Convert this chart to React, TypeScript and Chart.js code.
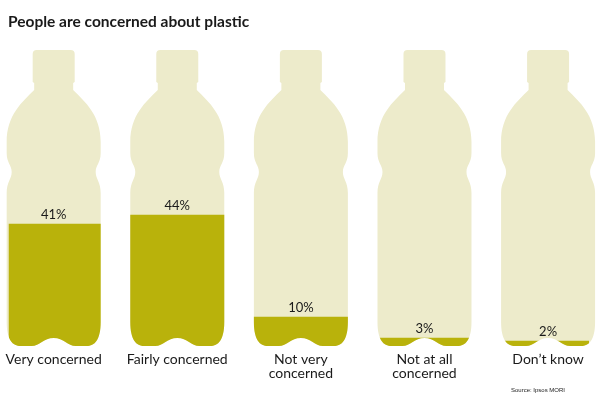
import React, { useEffect, useRef } from "react";
import { Chart, registerables } from "chart.js";

Chart.register(...registerables);

// ---- data ----
const categories = ["Very concerned", "Fairly concerned", "Not very concerned", "Not at all concerned", "Don’t know"];
const tickLabels = [["Very concerned"], ["Fairly concerned"], ["Not very", "concerned"], ["Not at all", "concerned"], ["Don’t know"]];
const values = [41, 44, 10, 3, 2];
const valueLabels = ["41%", "44%", "10%", "3%", "2%"];
const titleText = "People are concerned about plastic";
const sourceText = "Source: Ipsos MORI";

const LIGHT = "#EDEBCB";
const DARK = "#B9B20B";
const TEXT = "#1a1a1a";

function bottlePath(ctx: CanvasRenderingContext2D, cx: number, t: number, b: number) {
  const hw = 47;
  const capHW = 21;
  const neckHW = 19.5;
  const r = 4;
  ctx.moveTo(cx - capHW + r, t);
  ctx.lineTo(cx + capHW - r, t);
  ctx.quadraticCurveTo(cx + capHW, t, cx + capHW, t + r);
  ctx.lineTo(cx + capHW, t + 32);
  ctx.lineTo(cx + neckHW, t + 33);
  ctx.lineTo(cx + neckHW, t + 40);
  ctx.bezierCurveTo(cx + 31.5, t + 52, cx + hw, t + 65, cx + hw, t + 92);
  ctx.lineTo(cx + hw, t + 103);
  ctx.bezierCurveTo(cx + hw, t + 113, cx + hw - 5, t + 115, cx + hw - 5, t + 122);
  ctx.bezierCurveTo(cx + hw - 5, t + 129, cx + hw, t + 132, cx + hw, t + 143);
  ctx.lineTo(cx + hw, b - 24);
  ctx.bezierCurveTo(cx + hw, b - 6, cx + hw - 6, b, cx + hw - 14, b);
  ctx.lineTo(cx + 22, b);
  ctx.bezierCurveTo(cx + 14, b, cx + 10, b - 8, cx, b - 8);
  ctx.bezierCurveTo(cx - 10, b - 8, cx - 14, b, cx - 22, b);
  ctx.lineTo(cx - hw + 14, b);
  ctx.bezierCurveTo(cx - hw + 6, b, cx - hw, b - 6, cx - hw, b - 24);
  ctx.lineTo(cx - hw, t + 143);
  ctx.bezierCurveTo(cx - hw, t + 132, cx - hw + 5, t + 129, cx - hw + 5, t + 122);
  ctx.bezierCurveTo(cx - hw + 5, t + 115, cx - hw, t + 113, cx - hw, t + 103);
  ctx.lineTo(cx - hw, t + 92);
  ctx.bezierCurveTo(cx - hw, t + 65, cx - 31.5, t + 52, cx - neckHW, t + 40);
  ctx.lineTo(cx - neckHW, t + 33);
  ctx.lineTo(cx - capHW, t + 32);
  ctx.lineTo(cx - capHW, t + r);
  ctx.quadraticCurveTo(cx - capHW, t, cx - capHW + r, t);
  ctx.closePath();
}

const bottlePlugin = {
  id: "bottles",
  beforeDatasetsDraw(chart: any) {
    const { ctx, scales } = chart;
    const x = scales.x;
    const y = scales.y;
    const top = y.getPixelForValue(100) + 3;
    const bottom = y.getPixelForValue(0) - 1;
    ctx.save();
    ctx.beginPath();
    categories.forEach((_, i) => bottlePath(ctx, x.getPixelForValue(i), top, bottom));
    ctx.fillStyle = LIGHT;
    ctx.fill();
    ctx.clip();
  },
  afterDatasetsDraw(chart: any) {
    const { ctx } = chart;
    ctx.restore();
    const meta = chart.getDatasetMeta(0);
    ctx.save();
    ctx.font = "13px Lato";
    ctx.fillStyle = TEXT;
    ctx.textAlign = "center";
    ctx.textBaseline = "alphabetic";
    meta.data.forEach((el: any, i: number) => {
      ctx.fillText(valueLabels[i], el.x, el.y - 5);
    });
    ctx.restore();
  },
  afterDraw(chart: any) {
    const { ctx } = chart;
    ctx.save();
    ctx.font = "6px 'Liberation Sans'";
    ctx.fillStyle = TEXT;
    ctx.textAlign = "right";
    ctx.textBaseline = "alphabetic";
    ctx.fillText(sourceText, 565, 392);
    ctx.restore();
  },
};

export default function App() {
  const ref = useRef<HTMLCanvasElement | null>(null);
  useEffect(() => {
    if (!ref.current) return;
    const chart = new Chart(ref.current, {
      type: "bar",
      data: {
        datasets: [
          {
            data: values.map((v, i) => ({ x: i, y: v })),
            backgroundColor: DARK,
            borderWidth: 0,
            barThickness: 110,
          } as any,
        ],
      },
      options: {
        animation: false,
        responsive: false,
        devicePixelRatio: 1,
        layout: { padding: { left: 8, right: 8, top: 0, bottom: 18 } },
        plugins: {
          legend: { display: false },
          tooltip: { enabled: false },
          title: {
            display: true,
            text: titleText,
            align: "start",
            color: TEXT,
            font: { family: "Lato", size: 15.5, weight: "bold", lineHeight: 1.2 },
            padding: { top: 12.8, bottom: 15.6 },
          },
        },
        scales: {
          x: {
            type: "linear",
            offset: false,
            min: -0.3636,
            max: 4.331,
            grid: { display: false, drawTicks: false, offset: false },
            border: { display: false },
            afterBuildTicks: (scale: any) => {
              scale.ticks = categories.map((_, i) => ({ value: i }));
            },
            ticks: {
              autoSkip: false,
              maxRotation: 0,
              minRotation: 0,
              padding: 5,
              color: TEXT,
              font: { family: "Lato", size: 14, lineHeight: 1 },
              callback: (v: any) => tickLabels[v as number] ?? "",
            },
          },
          y: { display: false, min: 0, max: 100 },
        },
      } as any,
      plugins: [bottlePlugin],
    });
    return () => chart.destroy();
  }, []);
  return (
    <div style={{ position: "fixed", left: 0, top: 0, width: 597, height: 403, background: "#fff" }}>
      <canvas ref={ref} width={597} height={403} style={{ display: "block" }} />
    </div>
  );
}
